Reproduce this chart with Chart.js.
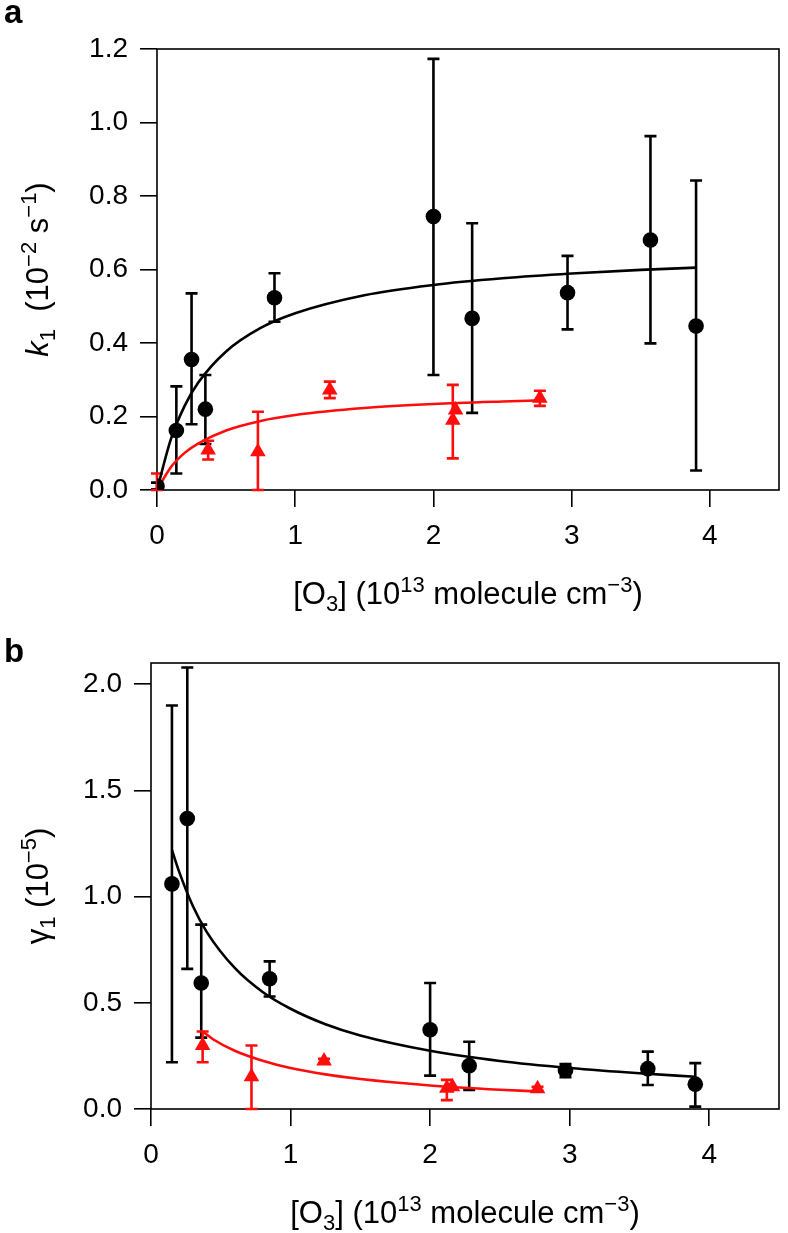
<!DOCTYPE html>
<html>
<head>
<meta charset="utf-8">
<script src="https://cdn.jsdelivr.net/npm/chart.js@4.4.1/dist/chart.umd.min.js"></script>
<style>
    html, body { margin: 0; padding: 0; background: #fff; }
    #wrap { position: relative; width: 788px; height: 1233px; }
    canvas { position: absolute; left: 0; }
</style>
</head>
<body>
<div id="wrap">
    <canvas id="chartA" width="788" height="616" style="top:0"></canvas>
    <canvas id="chartB" width="788" height="617" style="top:616px"></canvas>
</div>
<script>
// ---- datos ----
const xTicks = [0, 1, 2, 3, 4];
const yTicksA = [0, 0.2, 0.4, 0.6, 0.8, 1.0, 1.2];
const yTicksB = [0, 0.5, 1.0, 1.5, 2.0];

// panel a: círculos negros
const aBlackX  = [0.00, 0.14, 0.25, 0.35, 0.85, 2.00, 2.28, 2.97, 3.57, 3.90];
const aBlackY  = [0.011, 0.162, 0.355, 0.220, 0.523, 0.744, 0.467, 0.537, 0.680, 0.446];
const aBlackHi = [0.020, 0.282, 0.535, 0.313, 0.590, 1.173, 0.726, 0.637, 0.963, 0.842];
const aBlackLo = [0.002, 0.045, 0.179, 0.125, 0.458, 0.313, 0.210, 0.437, 0.399, 0.053];

// panel a: triángulos rojos
const aRedX  = [0.00, 0.37, 0.73, 1.25, 2.14, 2.16, 2.77];
const aRedY  = [0.007, 0.109, 0.104, 0.272, 0.190, 0.218, 0.250];
const aRedHi = [0.045, 0.134, 0.213, 0.295, 0.286, null, 0.270];
const aRedLo = [0.000, 0.083, 0.000, 0.250, 0.086, null, 0.229];

// panel a: curvas de ajuste
const aFitBlackX = [0, 0.1, 0.2, 0.3, 0.5, 0.75, 1.0, 1.5, 2.0, 2.5, 3.0, 3.5, 3.9];
const aFitBlackY = [0, 0.138, 0.229, 0.293, 0.377, 0.441, 0.481, 0.530, 0.558, 0.576, 0.589, 0.599, 0.605];
const aFitRedX = [0, 0.1, 0.2, 0.3, 0.5, 0.75, 1.0, 1.5, 2.0, 2.5, 2.77];
const aFitRedY = [0, 0.062, 0.101, 0.127, 0.162, 0.188, 0.204, 0.223, 0.234, 0.241, 0.244];

// panel b: círculos negros
const bBlackX  = [0.15, 0.26, 0.36, 0.85, 2.00, 2.28, 2.97, 3.56, 3.90];
const bBlackY  = [1.06, 1.368, 0.593, 0.613, 0.373, 0.204, 0.181, 0.190, 0.117];
const bBlackHi = [1.90, 2.079, 0.868, 0.695, 0.593, 0.317, 0.212, 0.270, 0.216];
const bBlackLo = [0.22, 0.660, 0.336, 0.530, 0.157, 0.090, 0.150, 0.113, 0.011];

// panel b: triángulos rojos
const bRedX  = [0.37, 0.72, 1.24, 2.12, 2.16, 2.77];
const bRedY  = [0.299, 0.152, 0.226, 0.098, 0.105, 0.095];
const bRedHi = [0.365, 0.299, 0.236, 0.137, null, 0.105];
const bRedLo = [0.220, 0.000, 0.216, 0.042, null, 0.085];

// panel b: curvas de ajuste
const bFitBlackX = [0.15, 0.2, 0.3, 0.4, 0.6, 0.8, 1.0, 1.25, 1.5, 2.0, 2.5, 3.0, 3.5, 3.9];
const bFitBlackY = [1.22, 1.12, 0.956, 0.833, 0.664, 0.551, 0.472, 0.399, 0.346, 0.274, 0.226, 0.193, 0.168, 0.152];
const bFitRedX = [0.37, 0.45, 0.6, 0.8, 1.0, 1.25, 1.5, 2.0, 2.5, 2.77];
const bFitRedY = [0.365, 0.326, 0.274, 0.227, 0.193, 0.163, 0.141, 0.111, 0.091, 0.083];

// textos de ejes
const xTitleParts  = [{t: '[O'}, {t: '3', sub: 1}, {t: '] (10'}, {t: '13', sup: 1}, {t: ' molecule cm'}, {t: '\u22123', sup: 1}, {t: ')'}];
const yTitlePartsA = [{t: 'k', it: 1}, {t: '1', sub: 1}, {t: '  (10'}, {t: '\u22122', sup: 1}, {t: ' s'}, {t: '\u22121', sup: 1}, {t: ')'}];
const yTitlePartsB = [{t: '\u03b3'}, {t: '1', sub: 1}, {t: ' (10'}, {t: '\u22125', sup: 1}, {t: ')'}];

const FONT = '"Liberation Sans", Arial, Helvetica, sans-serif';
const RED = '#ff0d0d';
const BLACK = '#000000';

const pts = (xs, ys) => xs.map((x, i) => ({x: x, y: ys[i]}));

// texto con sub/superíndices
function fontFor(p, size) {
    const s = (p.sub || p.sup) ? Math.round(size * 0.7) : size;
    return (p.it ? 'italic ' : '') + s + 'px ' + FONT;
}
function drawRich(ctx, parts, x, y, size) {
    let w = 0;
    parts.forEach(p => { ctx.font = fontFor(p, size); w += ctx.measureText(p.t).width; });
    let cx = x - w / 2;
    parts.forEach(p => {
        ctx.font = fontFor(p, size);
        const dy = p.sup ? -size * 0.40 : (p.sub ? size * 0.24 : 0);
        ctx.fillText(p.t, cx, y + dy);
        cx += ctx.measureText(p.t).width;
    });
}

// marco + barras de error
const errorBarPlugin = {
    id: 'errorBars',
    beforeDatasetsDraw(chart, args, opts) {
        const ctx = chart.ctx;
        const area = chart.chartArea;
        const xs = chart.scales.x, ys = chart.scales.y;
        ctx.save();
        ctx.strokeStyle = BLACK;
        ctx.lineWidth = 1.6;
        ctx.strokeRect(area.left, area.top, area.right - area.left, area.bottom - area.top);
        (opts.sets || []).forEach(set => {
            ctx.strokeStyle = set.color;
            ctx.lineWidth = 2.6;
            set.x.forEach((xv, i) => {
                if (set.hi[i] == null) return;
                const px = xs.getPixelForValue(xv);
                const top = ys.getPixelForValue(set.hi[i]);
                const bot = ys.getPixelForValue(set.lo[i]);
                ctx.beginPath();
                ctx.moveTo(px, top); ctx.lineTo(px, bot);
                ctx.moveTo(px - 6, top); ctx.lineTo(px + 6, top);
                ctx.moveTo(px - 6, bot); ctx.lineTo(px + 6, bot);
                ctx.stroke();
            });
        });
        ctx.restore();
    }
};

// títulos de ejes y etiqueta del panel
const titlesPlugin = {
    id: 'axisTitles',
    afterDraw(chart, args, opts) {
        const ctx = chart.ctx;
        const area = chart.chartArea;
        ctx.save();
        ctx.fillStyle = BLACK;
        ctx.textBaseline = 'alphabetic';
        ctx.textAlign = 'left';
        drawRich(ctx, xTitleParts, (area.left + area.right) / 2, area.bottom + opts.xTitleGap, 31);
        ctx.save();
        ctx.translate(opts.yTitleX, (area.top + area.bottom) / 2);
        ctx.rotate(-Math.PI / 2);
        drawRich(ctx, opts.yParts, 0, 0, 31);
        ctx.restore();
        ctx.font = 'bold 33px ' + FONT;
        ctx.fillText(opts.panel, 4, opts.panelY);
        ctx.restore();
    }
};

function buildChart(id, cfg) {
    const canvas = document.getElementById(id);
    const H = canvas.height;
    return new Chart(canvas, {
        type: 'scatter',
        data: {
            datasets: [
                { data: pts(cfg.blackX, cfg.blackY), showLine: false, pointStyle: 'circle', pointRadius: 7.8,
                  backgroundColor: BLACK, borderColor: BLACK, borderWidth: 0, order: 0 },
                { data: pts(cfg.redX, cfg.redY), showLine: false, pointStyle: 'triangle', pointRadius: 9,
                  backgroundColor: RED, borderColor: RED, borderWidth: 0, order: 0 },
                { data: pts(cfg.fitBlackX, cfg.fitBlackY), showLine: true, pointRadius: 0, borderColor: BLACK,
                  borderWidth: 2.6, cubicInterpolationMode: 'monotone', fill: false, order: 1 },
                { data: pts(cfg.fitRedX, cfg.fitRedY), showLine: true, pointRadius: 0, borderColor: RED,
                  borderWidth: 2.6, cubicInterpolationMode: 'monotone', fill: false, order: 1 }
            ]
        },
        options: {
            responsive: false,
            animation: false,
            layout: { padding: { left: 0, right: 1, top: cfg.top, bottom: 0 } },
            scales: {
                x: {
                    type: 'linear', min: 0, max: 4.5,
                    afterBuildTicks: s => { s.ticks = xTicks.map(v => ({ value: v })); },
                    afterFit: s => { s.height = H - cfg.bottom; },
                    grid: { drawOnChartArea: false, drawTicks: true, tickLength: 17, color: BLACK, lineWidth: 1.6 },
                    border: { display: false },
                    ticks: { color: BLACK, font: { family: FONT, size: 28 }, padding: 12, maxRotation: 0,
                             autoSkip: false, callback: v => String(v) }
                },
                y: {
                    type: 'linear', min: 0, max: cfg.ymax,
                    afterBuildTicks: s => { s.ticks = cfg.yTicks.map(v => ({ value: v })); },
                    afterFit: s => { s.width = cfg.left; },
                    grid: { drawOnChartArea: false, drawTicks: true, tickLength: 17, color: BLACK, lineWidth: 1.6 },
                    border: { display: false },
                    ticks: { color: BLACK, font: { family: FONT, size: 28 }, padding: 12,
                             autoSkip: false, callback: v => Number(v).toFixed(1) }
                }
            },
            plugins: {
                legend: { display: false },
                tooltip: { enabled: false },
                errorBars: { sets: [
                    { x: cfg.blackX, hi: cfg.blackHi, lo: cfg.blackLo, color: BLACK },
                    { x: cfg.redX, hi: cfg.redHi, lo: cfg.redLo, color: RED }
                ] },
                axisTitles: { yParts: cfg.yParts, yTitleX: 48, xTitleGap: 114, panel: cfg.panel, panelY: cfg.panelY }
            }
        },
        plugins: [errorBarPlugin, titlesPlugin]
    });
}

buildChart('chartA', {
    top: 49, bottom: 490, left: 157, ymax: 1.2, yTicks: yTicksA, yParts: yTitlePartsA,
    panel: 'a', panelY: 23,
    blackX: aBlackX, blackY: aBlackY, blackHi: aBlackHi, blackLo: aBlackLo,
    redX: aRedX, redY: aRedY, redHi: aRedHi, redLo: aRedLo,
    fitBlackX: aFitBlackX, fitBlackY: aFitBlackY, fitRedX: aFitRedX, fitRedY: aFitRedY
});

buildChart('chartB', {
    top: 47, bottom: 493, left: 151, ymax: 2.1, yTicks: yTicksB, yParts: yTitlePartsB,
    panel: 'b', panelY: 46,
    blackX: bBlackX, blackY: bBlackY, blackHi: bBlackHi, blackLo: bBlackLo,
    redX: bRedX, redY: bRedY, redHi: bRedHi, redLo: bRedLo,
    fitBlackX: bFitBlackX, fitBlackY: bFitBlackY, fitRedX: bFitRedX, fitRedY: bFitRedY
});
</script>
</body>
</html>
